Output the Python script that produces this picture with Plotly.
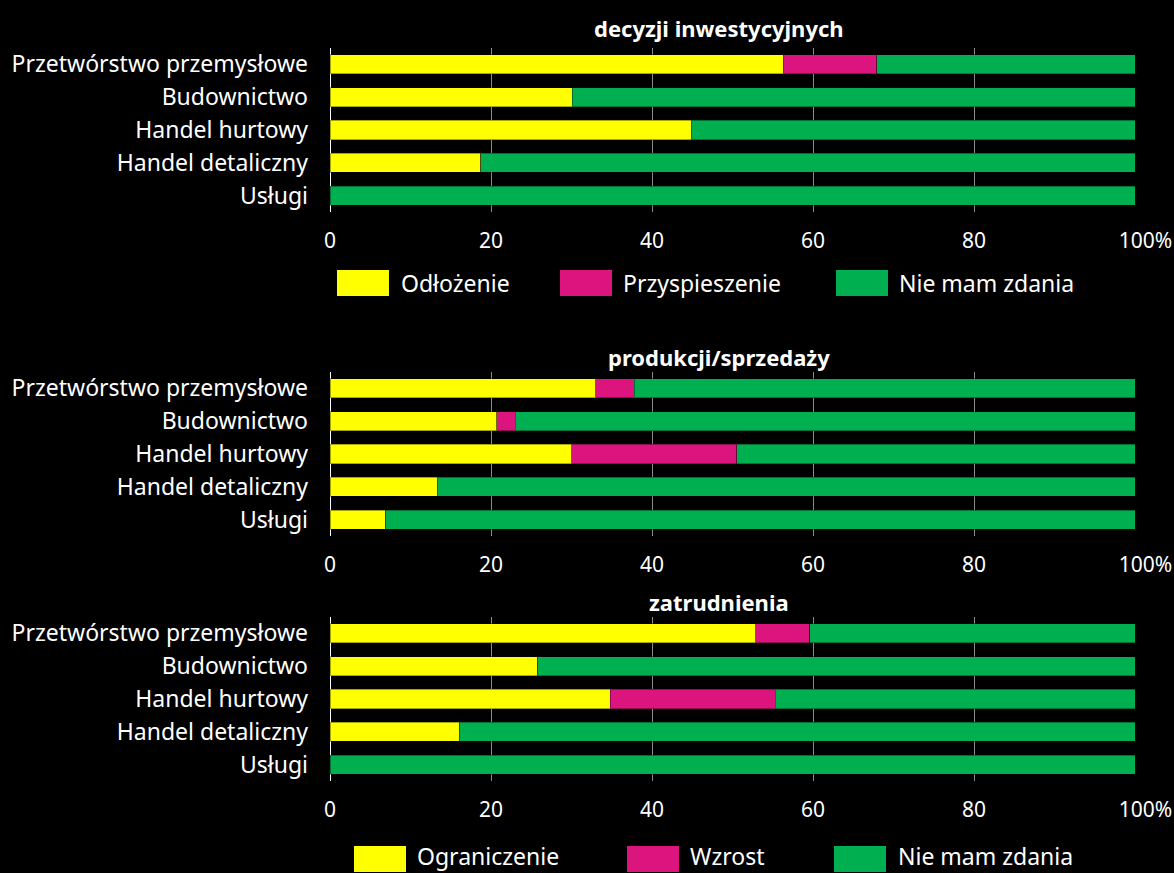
import plotly.graph_objects as go

categories = ["Przetwórstwo przemysłowe", "Budownictwo", "Handel hurtowy", "Handel detaliczny", "Usługi"]

titles = ["decyzji inwestycyjnych", "produkcji/sprzedaży", "zatrudnienia"]
series_names_1 = ["Odłożenie", "Przyspieszenie", "Nie mam zdania"]
series_names_23 = ["Ograniczenie", "Wzrost", "Nie mam zdania"]

# panel 1: decyzji inwestycyjnych
inv_down = [56.3, 30.1, 44.9, 18.7, 0]
inv_up = [11.6, 0, 0, 0, 0]
inv_none = [32.1, 69.9, 55.1, 81.3, 100]

# panel 2: produkcji/sprzedaży
prod_down = [33.0, 20.7, 30.0, 13.3, 6.9]
prod_up = [4.8, 2.3, 20.5, 0, 0]
prod_none = [62.2, 77.0, 49.5, 86.7, 93.1]

# panel 3: zatrudnienia
emp_down = [52.9, 25.8, 34.8, 16.1, 0]
emp_up = [6.7, 0, 20.5, 0, 0]
emp_none = [40.4, 74.2, 44.7, 83.9, 100]

tick_vals = [0, 20, 40, 60, 80, 100]
tick_text = ["0", "20", "40", "60", "80", "\u2002\u2002100%"]

colors = ["#FFFF00", "#DC147D", "#00B050"]
FONT = "Noto Sans"
W, H = 1174, 873
L, R = 330, 39

panels = [
    (inv_down, inv_up, inv_none, (48, 212), 28),
    (prod_down, prod_up, prod_none, (372, 536), 357),
    (emp_down, emp_up, emp_none, (617, 781), 602),
]

fig = go.Figure()
layout = dict(
    width=W, height=H,
    paper_bgcolor="black", plot_bgcolor="black",
    margin=dict(l=L, r=R, t=0, b=0),
    barmode="stack", bargap=0.42,
    showlegend=False,
    font=dict(family=FONT, color="white", size=20),
)

annotations = []
shapes = []
for i, (d, u, n, (top, bot), ty) in enumerate(panels):
    sfx = "" if i == 0 else str(i + 1)
    names = series_names_1 if i == 0 else series_names_23
    for vals, name, col in zip((d, u, n), names, colors):
        fig.add_trace(go.Bar(
            x=vals, y=categories, orientation="h", name=name,
            marker=dict(color=col, line=dict(width=1, color="rgba(0,0,0,0.35)")),
            xaxis="x" + sfx, yaxis="y" + sfx, hoverinfo="x+y+name",
        ))
    layout["xaxis" + sfx] = dict(
        domain=[0, 1], range=[0, 100], anchor="y" + sfx,
        tickvals=tick_vals, ticktext=tick_text,
        showgrid=True, gridcolor="#8a8a8a", gridwidth=1,
        zeroline=True, zerolinecolor="white", zerolinewidth=1,
        showline=False, ticks="", ticklabelstandoff=14,
        tickfont=dict(size=21, color="white", family=FONT),
        fixedrange=True,
    )
    layout["yaxis" + sfx] = dict(
        domain=[1 - bot / H, 1 - top / H], anchor="x" + sfx,
        type="category", categoryorder="array", categoryarray=categories,
        range=[4.5, -0.5],
        showgrid=False, zeroline=False, showline=False, ticks="",
        ticklabelstandoff=21,
        tickfont=dict(size=23, color="white", family=FONT),
        fixedrange=True,
    )
    annotations.append(dict(
        text="<b>" + titles[i] + "</b>", xref="paper", yref="paper",
        x=(719 - L) / (W - L - R), y=1 - ty / H, xanchor="center", yanchor="middle",
        showarrow=False, font=dict(size=22, color="white", family=FONT),
    ))

# custom legends (large swatches)
def add_legend(names, items, yc, ytext):
    for name, col, (x0, tx) in zip(names, colors, items):
        shapes.append(dict(
            type="rect", xref="paper", yref="paper",
            x0=(x0 - L) / (W - L - R), x1=(x0 + 52 - L) / (W - L - R),
            y0=1 - (yc + 13) / H, y1=1 - (yc - 13) / H,
            fillcolor=col, line=dict(width=0), layer="above",
        ))
        annotations.append(dict(
            text=name, xref="paper", yref="paper",
            x=(tx - L) / (W - L - R), y=1 - ytext / H, xanchor="left", yanchor="middle",
            showarrow=False, font=dict(size=23, color="white", family=FONT),
        ))

add_legend(series_names_1, [(337, 399), (560, 621), (836, 897)], 283, 283)
add_legend(series_names_23, [(354, 415), (627, 688), (834, 896)], 859, 856)

layout["annotations"] = annotations
layout["shapes"] = shapes
fig.update_layout(**layout)
fig.write_html(
    "out.html",
    config={"displayModeBar": False},
    post_script="document.body.style.margin='0';document.body.style.background='black';",
)
